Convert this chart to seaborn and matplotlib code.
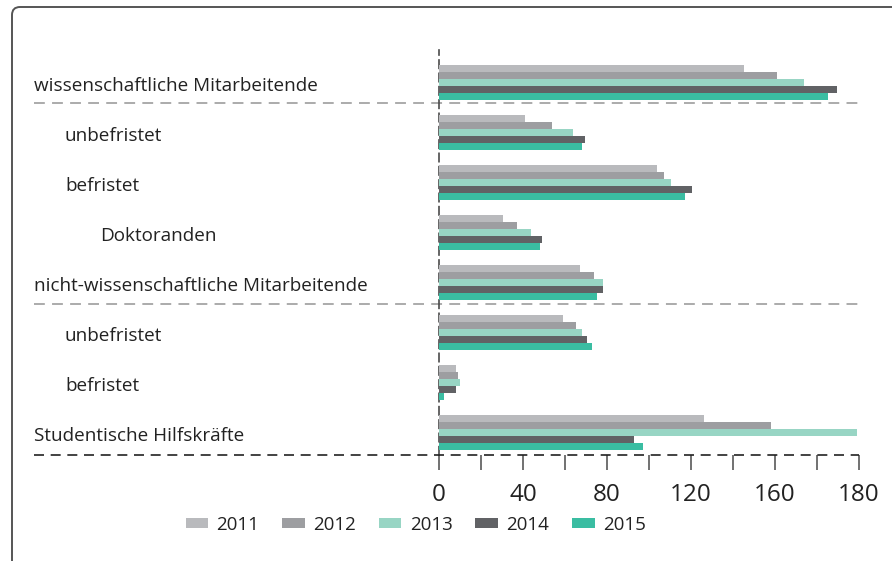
import numpy as np
import pandas as pd
import matplotlib
matplotlib.use("Agg")
import matplotlib.pyplot as plt
import matplotlib.transforms as mtransforms
from matplotlib.patches import FancyBboxPatch
import seaborn as sns

# ---- data ----
categories = [
    "wissenschaftliche Mitarbeitende",
    "unbefristet",
    "befristet",
    "Doktoranden",
    "nicht-wissenschaftliche Mitarbeitende",
    "unbefristet ",
    "befristet ",
    "Studentische Hilfskräfte",
]
label_indent = [0, 1, 1, 2, 0, 1, 1, 0]
years = ["2011", "2012", "2013", "2014", "2015"]
v2011 = [145, 41, 104, 30.5, 67, 59, 8, 126]
v2012 = [161, 54, 107, 37, 74, 65, 9, 158]
v2013 = [174, 64, 110.5, 44, 78, 68, 10, 199]
v2014 = [189.5, 69.5, 120.5, 49, 78, 70.5, 8, 93]
v2015 = [185, 68, 117, 48, 75, 73, 2.5, 97]
tick_values = [0, 40, 80, 120, 160, 200]
tick_labels = ["0", "40", "80", "120", "160", "180"]
colors = ["#b9babd", "#9d9ea1", "#98d5c4", "#616265", "#3abda2"]

series = [v2011, v2012, v2013, v2014, v2015]
rows = []
for y, vals in zip(years, series):
    for c, v in zip(categories, vals):
        rows.append({"Kategorie": c, "Jahr": y, "Wert": v})
df = pd.DataFrame(rows)

sns.set_theme(style="white")
plt.rcParams["font.family"] = ["Open Sans", "DejaVu Sans"]
text_color = "#222222"

W, H = 892, 561
fig = plt.figure(figsize=(W / 100, H / 100), dpi=100)
ax_left, ax_right = 439 / W, 859 / W
ax_top, ax_bottom = 1 - 50 / H, 1 - 455 / H
ax = fig.add_axes([ax_left, ax_bottom, ax_right - ax_left, ax_top - ax_bottom])

sns.barplot(data=df, y="Kategorie", x="Wert", hue="Jahr", orient="h",
            palette=colors, width=0.7, gap=0.1, saturation=1,
            linewidth=0, order=categories, hue_order=years, ax=ax)

ax.set_xlim(0, 200)
ax.set_ylim(7.45, -0.65)
ax.set_xlabel("")
ax.set_ylabel("")
ax.set_yticks([])

# x ticks every 20, labels only on some
ax.set_xticks(np.arange(0, 201, 20))
lab = ["" for _ in np.arange(0, 201, 20)]
for tv, tl in zip(tick_values, tick_labels):
    lab[int(tv // 20)] = tl
ax.set_xticklabels(lab, fontsize=17.5, color=text_color)
ax.tick_params(axis="x", direction="out", length=11, width=1.1,
               color="#4a4a4a", pad=9, bottom=True)

for s in ["top", "right", "bottom"]:
    ax.spines[s].set_visible(False)
ax.spines["left"].set_linestyle((0, (5, 3)))
ax.spines["left"].set_color("#4a4a4a")
ax.spines["left"].set_linewidth(1.2)
ax.spines["left"].set_zorder(0.5)

# category labels
trans = mtransforms.blended_transform_factory(fig.transFigure, ax.transData)
indent_px = [34, 65, 100]
for i, (c, ind) in enumerate(zip(categories, label_indent)):
    ax.text(indent_px[ind] / W, i + 0.08, c.strip(), transform=trans,
            ha="left", va="center", fontsize=13.6, color=text_color)

# dividers
xmin = (34 - 439) / 420
for yv in [0.42, 4.43]:
    ax.axhline(yv, xmin=xmin, xmax=1.0, color="#a5a5a5", lw=1.3,
               linestyle=(0, (6, 4)), clip_on=False, zorder=0.4)
ax.axhline(7.45, xmin=xmin, xmax=1.0, color="#222222", lw=1.2,
           linestyle=(0, (6, 4)), clip_on=False)

# legend
handles, labels = ax.get_legend_handles_labels()
if ax.get_legend() is not None:
    ax.get_legend().remove()
leg = fig.legend(handles, labels, ncol=5, loc="center",
                 bbox_to_anchor=(0.466, 1 - 525 / H), frameon=False,
                 fontsize=13.5, handlelength=1.2, handleheight=0.42,
                 handletextpad=0.45, columnspacing=1.22, labelcolor=text_color)

# frame
frame = FancyBboxPatch((12, -30), W + 30 - 12, H - 7 + 30,
                       boxstyle="round,pad=0,rounding_size=8",
                       transform=mtransforms.IdentityTransform(),
                       fill=False, edgecolor="#555555", linewidth=1.4,
                       clip_on=False)
fig.patches.append(frame)

fig.savefig("out.png", dpi=100)
